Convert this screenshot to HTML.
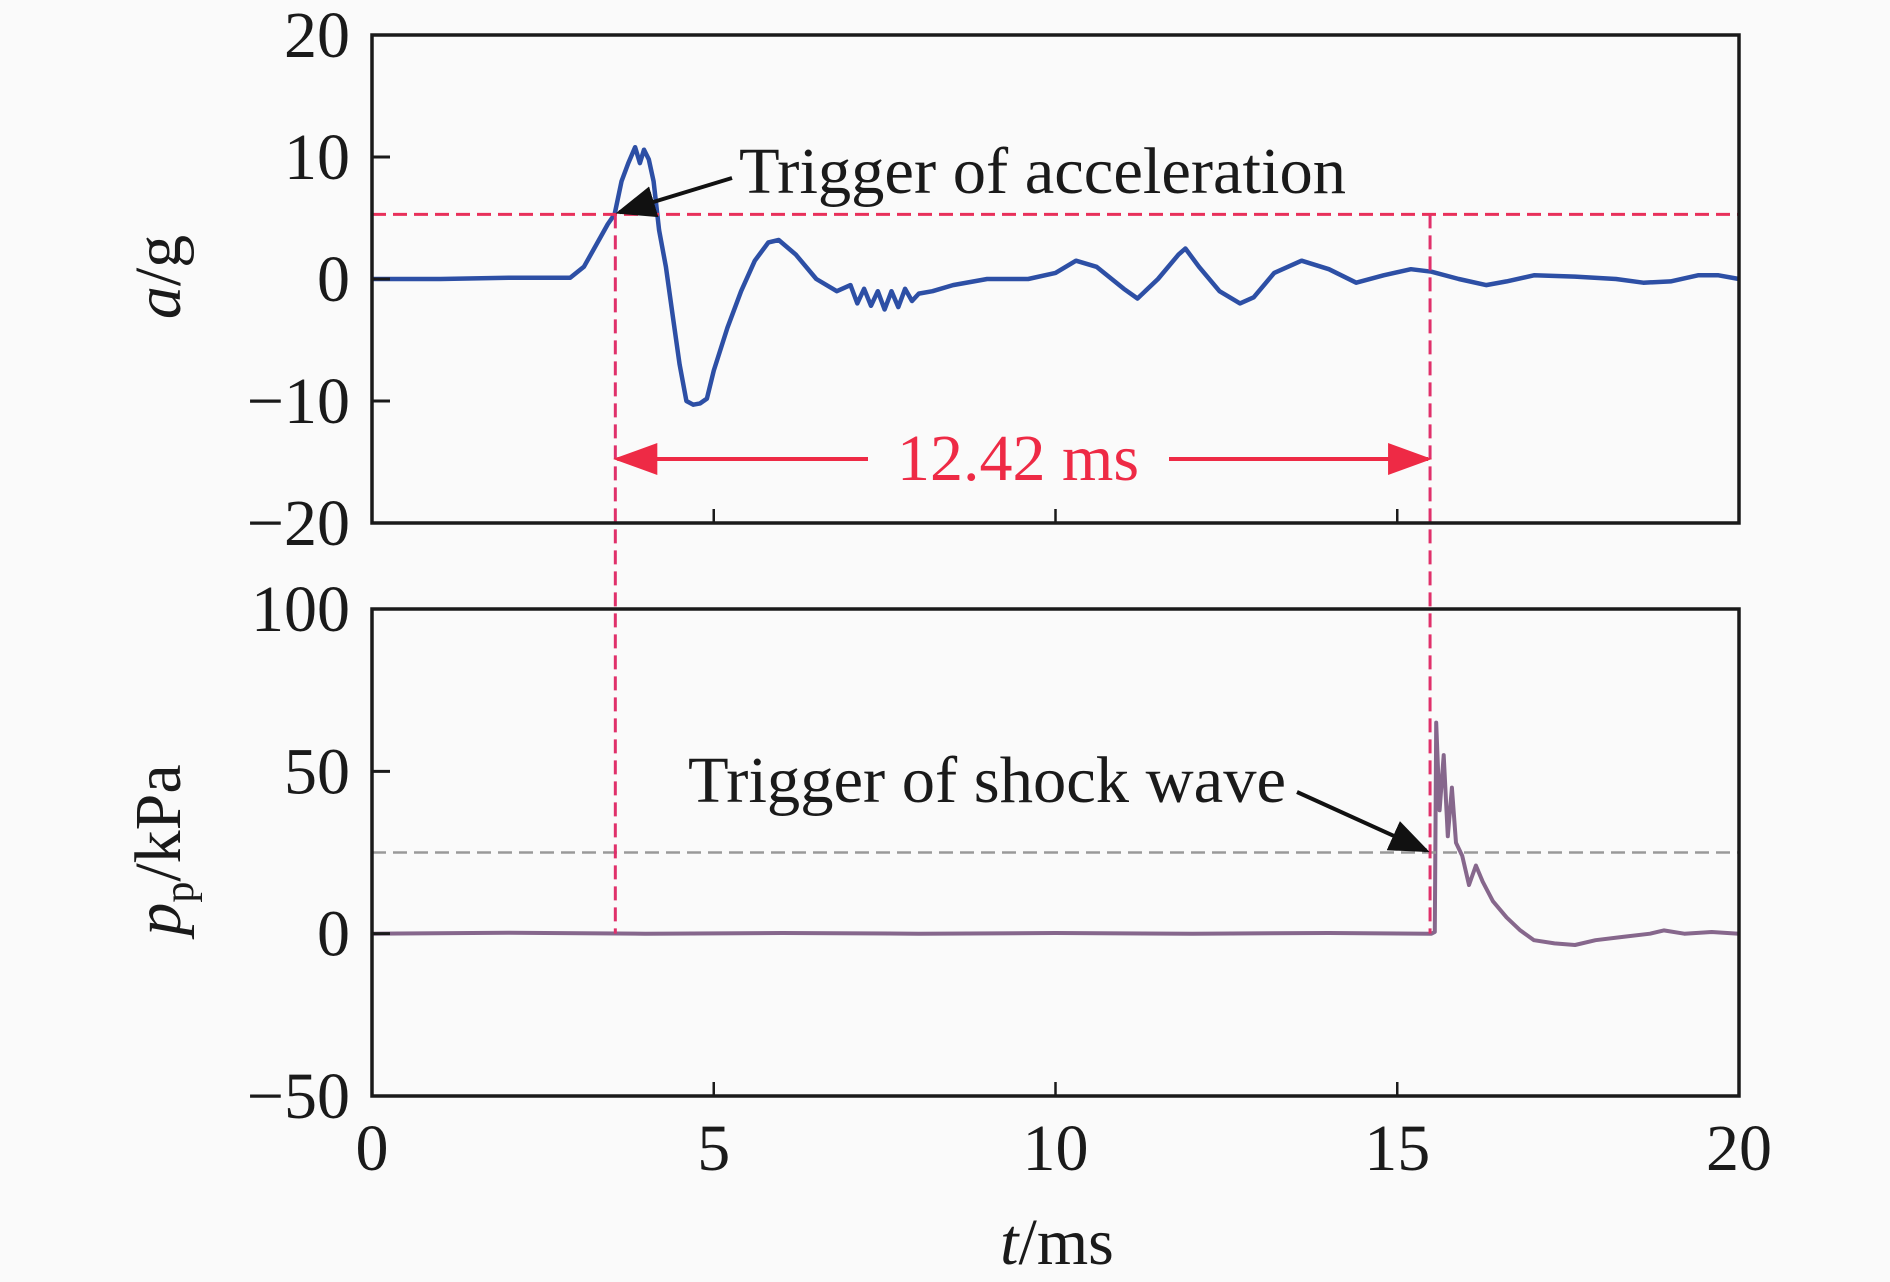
<!DOCTYPE html>
<html><head><meta charset="utf-8"><style>
html,body{margin:0;padding:0;background:#fafafa;}
svg{display:block;font-family:"Liberation Serif",serif;}
</style></head><body>
<svg id="chart" width="1890" height="1282" viewBox="0 0 1890 1282">
<defs>
<marker id="arrB" markerWidth="10" markerHeight="8" refX="9" refY="4" orient="auto" markerUnits="strokeWidth"><path d="M0,0 L10,4 L0,8 Z" fill="#111"/></marker>
<marker id="arrR" markerWidth="11" markerHeight="8" refX="10" refY="4" orient="auto" markerUnits="strokeWidth"><path d="M0,0 L11,4 L0,8 Z" fill="#ee2a45"/></marker>
</defs>
<g id="g"></g>
</svg>
<script>
const accT=[0,1,2,2.9,3.1,3.3,3.45,3.55,3.65,3.75,3.85,3.92,3.98,4.05,4.12,4.2,4.3,4.4,4.5,4.6,4.7,4.8,4.9,5.0,5.2,5.4,5.6,5.8,5.95,6.2,6.5,6.8,7.0,7.1,7.2,7.3,7.4,7.5,7.6,7.7,7.8,7.9,8.0,8.2,8.5,9.0,9.6,10.0,10.3,10.6,11.0,11.2,11.5,11.8,11.9,12.1,12.4,12.7,12.9,13.2,13.6,14.0,14.4,14.8,15.2,15.5,15.9,16.3,16.6,17.0,17.6,18.2,18.6,19.0,19.4,19.7,20.0];
const accV=[0,0,0.1,0.1,1,3,4.5,5.3,8,9.5,10.8,9.5,10.6,9.8,8,4,1,-3,-7,-10,-10.3,-10.2,-9.8,-7.5,-4,-1,1.5,3,3.2,2,0,-1,-0.5,-2,-0.8,-2.2,-1,-2.5,-1,-2.3,-0.8,-1.8,-1.2,-1,-0.5,0,0,0.5,1.5,1,-0.8,-1.6,0,2,2.5,1,-1,-2,-1.5,0.5,1.5,0.8,-0.3,0.3,0.8,0.6,0,-0.5,-0.2,0.3,0.2,0,-0.3,-0.2,0.3,0.3,0];
const preT=[0,2,4,6,8,10,12,14,15.5,15.55,15.57,15.62,15.68,15.74,15.8,15.86,15.95,16.05,16.15,16.25,16.4,16.6,16.8,17.0,17.3,17.6,17.9,18.3,18.7,18.9,19.2,19.6,20.0];
const preV=[0,0.3,0,0.2,0,0.2,0,0.2,0,0.5,65,38,55,30,45,28,24,15,21,16,10,5,1,-2,-3,-3.5,-2,-1,0,1,0,0.5,0];
const xTicks=[0,5,10,15,20];
const accTicks=[20,10,0,-10,-20];
const preTicks=[100,50,0,-50];
const accThreshold=5.3, preThreshold=25;
const trigT1=3.56, trigT2=15.48;
const intervalLabel="12.42 ms";

const L=372,R=1739,T1=35,B1=523,T2=609,B2=1096;
const sx=t=>L+(t-0)/(20-0)*(R-L);
const sy1=v=>B1-(v+20)/40*(B1-T1);
const sy2=v=>B2-(v+50)/150*(B2-T2);
const NS="http://www.w3.org/2000/svg";
const g=document.getElementById('g');
function el(tag,attrs,parent){const e=document.createElementNS(NS,tag);for(const k in attrs)e.setAttribute(k,attrs[k]);(parent||g).appendChild(e);return e;}

let d1=accT.map((t,i)=>(i?'L':'M')+sx(t).toFixed(1)+','+sy1(accV[i]).toFixed(1)).join(' ');
const p1=el('path',{d:d1,fill:'none',stroke:'#2d4fa5','stroke-width':4.5,'stroke-linejoin':'round'});


let d2=preT.map((t,i)=>(i?'L':'M')+sx(t).toFixed(1)+','+sy2(preV[i]).toFixed(1)).join(' ');
const p2=el('path',{d:d2,fill:'none',stroke:'#86678c','stroke-width':4,'stroke-linejoin':'round'});



const th1=el('line',{x1:L,x2:R,y1:sy1(accThreshold),y2:sy1(accThreshold),stroke:'#e8305a','stroke-width':3,'stroke-dasharray':'14,7'});


const th2=el('line',{x1:L,x2:R,y1:sy2(preThreshold),y2:sy2(preThreshold),stroke:'#999','stroke-width':2.5,'stroke-dasharray':'14,7'});


[trigT1,trigT2].forEach((t,i)=>{
 const v=el('line',{x1:sx(t),x2:sx(t),y1:sy1(accThreshold),y2:sy2(0),stroke:'#e0306a','stroke-width':3,'stroke-dasharray':'14,7'});
 
 
});

[[T1,B1],[T2,B2]].forEach(([t,b],i)=>{
 const r=el('rect',{x:L,y:t,width:R-L,height:b-t,fill:'none',stroke:'#1a1a1a','stroke-width':3.5});
 
 
 xTicks.slice(1,-1).forEach(x=>{el('line',{x1:sx(x),x2:sx(x),y1:b,y2:b-14,stroke:'#1a1a1a','stroke-width':2.5});});
});
accTicks.slice(1,-1).forEach(v=>el('line',{x1:L,x2:L+18,y1:sy1(v),y2:sy1(v),stroke:'#1a1a1a','stroke-width':3}));
preTicks.slice(1,-1).forEach(v=>el('line',{x1:L,x2:L+18,y1:sy2(v),y2:sy2(v),stroke:'#1a1a1a','stroke-width':3}));

function txt(s,attrs,name){const e=el('text',Object.assign({fill:'#1a1a1a','font-size':66},attrs));e.textContent=s;return e;}
accTicks.forEach(v=>txt(v<0?'\u2212'+(-v):String(v),{x:350,y:sy1(v)+22,'text-anchor':'end'},'y-tick-acc'));
preTicks.forEach(v=>txt(v<0?'\u2212'+(-v):String(v),{x:350,y:sy2(v)+22,'text-anchor':'end'},'y-tick-pressure'));
xTicks.forEach(v=>txt(String(v),{x:sx(v),y:1170,'text-anchor':'middle'},'x-tick-label'));

const ya=txt('',{transform:'translate(180,277) rotate(-90)','text-anchor':'middle'},'y-axis-title-acceleration');
ya.innerHTML='<tspan font-style="italic">a</tspan>/g';
const yp=txt('',{transform:'translate(180,850) rotate(-90)','text-anchor':'middle'},'y-axis-title-pressure');
yp.innerHTML='<tspan font-style="italic">p</tspan><tspan font-size="42" dy="13">p</tspan><tspan dy="-13">/kPa</tspan>';
const xa=txt('',{x:1057,y:1264,'text-anchor':'middle'},'x-axis-title');
xa.innerHTML='<tspan font-style="italic">t</tspan>/ms';

txt('Trigger of acceleration',{x:739,y:193,textLength:607,lengthAdjust:'spacingAndGlyphs'},'acceleration-annotation');
const a1=el('line',{x1:732,y1:178,x2:sx(trigT1)+4,y2:sy1(accThreshold)-2,stroke:'#111','stroke-width':4,'marker-end':'url(#arrB)'});


txt('Trigger of shock wave',{x:688,y:802,textLength:598,lengthAdjust:'spacingAndGlyphs'},'shock-annotation');
const a2=el('line',{x1:1297,y1:792,x2:sx(trigT2)-4,y2:sy2(preThreshold)-2,stroke:'#111','stroke-width':4,'marker-end':'url(#arrB)'});


const yA=459;
const r1=el('line',{x1:868,y1:yA,x2:sx(trigT1)+2,y2:yA,stroke:'#ee2a45','stroke-width':4,'marker-end':'url(#arrR)'});


const r2=el('line',{x1:1169,y1:yA,x2:sx(trigT2)-2,y2:yA,stroke:'#ee2a45','stroke-width':4,'marker-end':'url(#arrR)'});


txt(intervalLabel,{x:1018,y:480,'text-anchor':'middle',fill:'#ee2a45'},'interval-label');
</script>
</body></html>
